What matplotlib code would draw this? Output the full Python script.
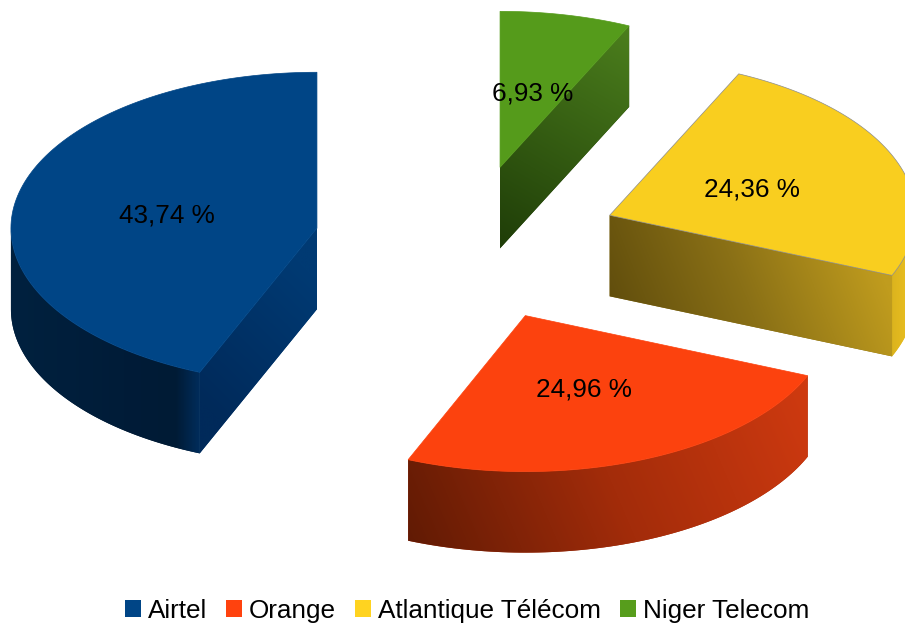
"""Exploded pseudo-3D pie of market shares, drawn in pixel coordinates."""
import matplotlib
matplotlib.use("Agg")
import matplotlib.pyplot as plt
import numpy as np
from matplotlib.colors import LinearSegmentedColormap
from matplotlib.patches import Patch, Polygon

plt.rcParams["font.family"] = ["Liberation Sans", "DejaVu Sans"]

operators = ["Airtel", "Orange", "Atlantique Télécom", "Niger Telecom"]
shares = [43.74, 24.96, 24.36, 6.93]
colors = ["#004586", "#ff420e", "#ffd320", "#579d1c"]
top_colors = ["#004586", "#fc420e", "#f9ce1f", "#559b1b"]

CX, CY = 467, 243.5
RX, RY = 306, 156
DEPTH = 81
EXPLODE = 0.5
FONT = 18.8

# side shading: (gradient start, gradient end, colour stops) per wedge
ARC_SHADE = {
    "Airtel": ((11, 300), (200, 300), [(0, "#00213f"), (0.6, "#001c38"), (0.87, "#001b35"), (1, "#002d5c")]),
    "Orange": ((408, 560), (808, 390), [(0, "#5f1a04"), (0.5, "#a32c0a"), (1, "#cf3a10")]),
    "Atlantique Télécom": ((892, 300), (905, 300), [(0, "#dcb41e"), (1, "#e6bc20")]),
}
CUT_SHADE = {
    "Airtel": ((200, 400), (317, 280), [(0, "#002a5a"), (1, "#003a73")]),
    "Atlantique Télécom": ((610, 320), (860, 220), [(0, "#5f4c0c"), (0.5, "#8a7016"), (1, "#c09c1e")]),
    "Niger Telecom": ((629, 25), (500, 248), [(0, "#4c7f1d"), (1, "#1f3d08")]),
}


def point(cx, cy, deg):
    rad = np.radians(deg)
    return cx + RX * np.cos(rad), cy - RY * np.sin(rad)


def shade(ax, verts, start, end, stops):
    """Fill a polygon with a linear gradient running from start to end."""
    verts = np.asarray(verts)
    x0, y0 = np.floor(verts.min(axis=0)) - 1
    x1, y1 = np.ceil(verts.max(axis=0)) + 1
    xs, ys = np.meshgrid(np.arange(x0, x1 + 1), np.arange(y0, y1 + 1))
    dx, dy = end[0] - start[0], end[1] - start[1]
    grad = ((xs - start[0]) * dx + (ys - start[1]) * dy) / (dx * dx + dy * dy)
    cmap = LinearSegmentedColormap.from_list("side", stops)
    # soft edge under the image, image clips are hard
    ax.add_patch(Polygon(verts, closed=True, fc=stops[len(stops) // 2][1], ec="none", zorder=2))
    im = ax.imshow(grad, cmap=cmap, vmin=0, vmax=1, extent=(x0, x1, y1, y0),
                   origin="upper", aspect="auto", interpolation="bilinear", zorder=2)
    clip = Polygon(verts, closed=True, transform=ax.transData)
    im.set_clip_path(clip)


fig, ax = plt.subplots(figsize=(9.05, 6.24), dpi=100)
fig.subplots_adjust(0, 0, 1, 1)
ax.axis("off")

total = sum(shares)
angle = 90.0
for name, share, top in zip(operators, shares, top_colors):
    t0, t1 = angle, angle + 360 * share / total
    angle = t1
    mid = (t0 + t1) / 2
    ex, ey = point(0, 0, mid)
    px, py = CX + EXPLODE * ex, CY + EXPLODE * ey

    # outer wall, only the part facing the viewer
    lo, hi = max(t0, 180), min(t1, 360)
    if lo < hi and name in ARC_SHADE:
        ts = np.linspace(lo, hi, 80)
        upper = [point(px, py, t) for t in ts]
        lower = [(x, y + DEPTH) for x, y in upper[::-1]]
        shade(ax, upper + lower, *ARC_SHADE[name])

    # cut wall
    if name in CUT_SHADE:
        rim = t1 if np.cos(np.radians(t1)) < -1e-6 else t0
        rx, ry = point(px, py, rim)
        shade(ax, [(px, py), (rx, ry), (rx, ry + DEPTH), (px, py + DEPTH)], *CUT_SHADE[name])

    # top face
    ts = np.linspace(t0, t1, 120)
    outline = [(px, py)] + [point(px, py, t) for t in ts]
    ax.add_patch(Polygon(outline, closed=True, fc=top, ec="#8c8c8c" if name == "Atlantique Télécom" else top,
                         lw=0.5, zorder=3))

    lx, ly = point(0, 0, mid)
    ax.text(px + 0.5 * lx, py + 0.5 * ly + 2, f"{share:.2f} %".replace(".", ","),
            ha="center", va="center", fontsize=FONT, color="black", zorder=5)

ax.set_xlim(0, 905)
ax.set_ylim(624, 0)

handles = [Patch(fc=c, ec="none") for c in colors]
ax.legend(handles, operators, ncols=4, loc="center", bbox_to_anchor=(467, 611),
          bbox_transform=ax.transData, frameon=False, fontsize=FONT, borderpad=0,
          borderaxespad=0, handlelength=0.62, handleheight=0.62, handletextpad=0.27,
          columnspacing=0.72)

fig.savefig("out.png", dpi=100)
plt.close(fig)
